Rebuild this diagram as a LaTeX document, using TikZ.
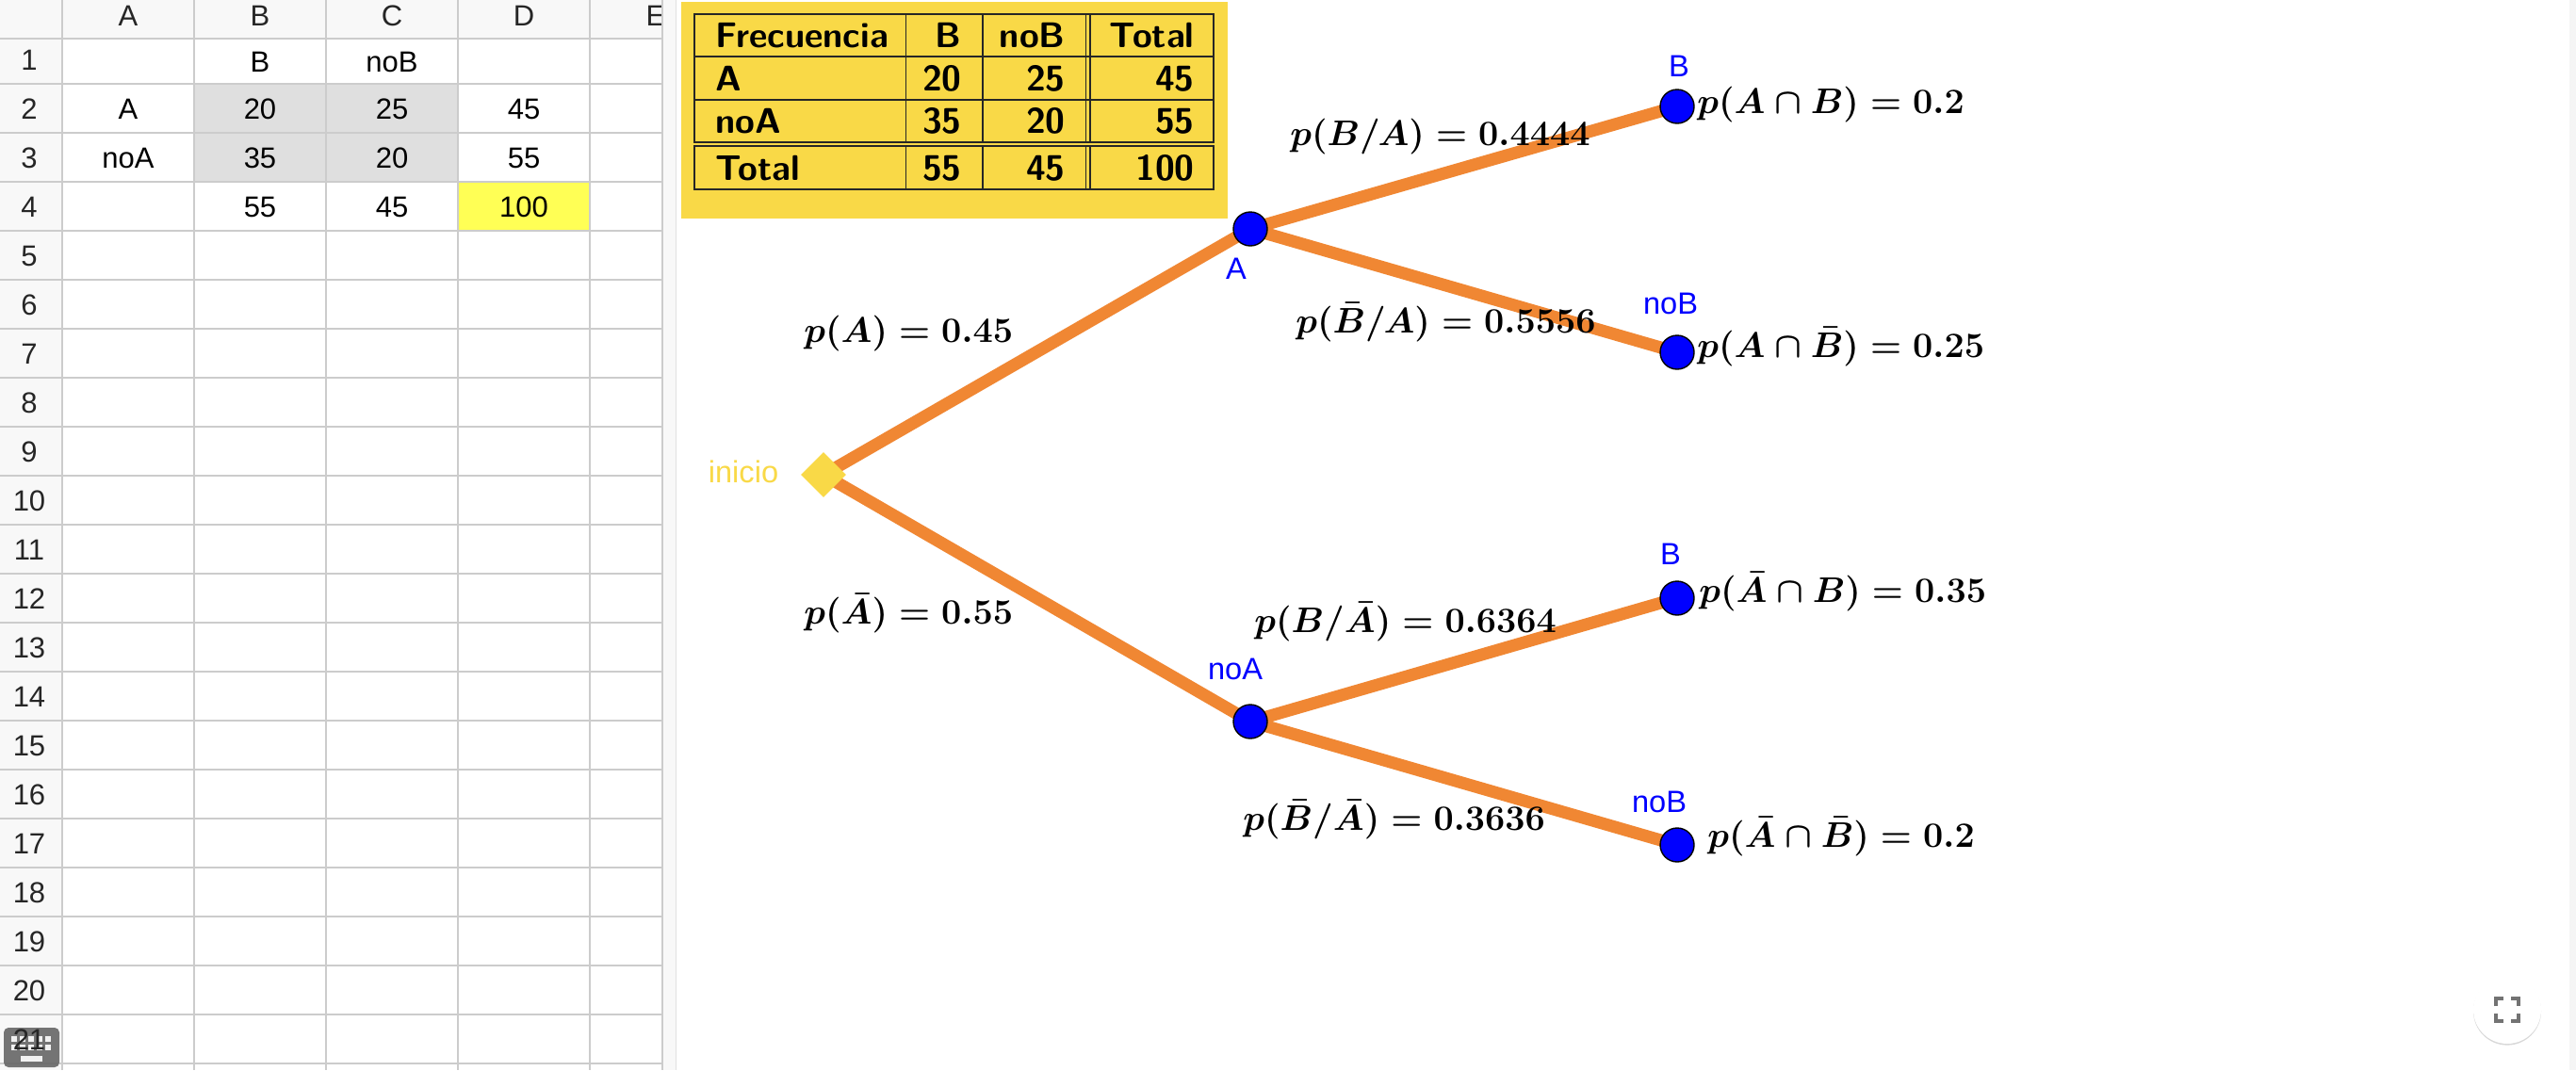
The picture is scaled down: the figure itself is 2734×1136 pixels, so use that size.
\RequirePackage{fix-cm}
\documentclass[tikz,border=0pt]{standalone}
\usepackage[no-math]{fontspec}
\setmainfont{Liberation Sans}
\usepackage{amsmath}
\usetikzlibrary{shapes.geometric, positioning, backgrounds, shadows}
\definecolor{panelcol}{HTML}{F9D947}
\definecolor{branchcol}{HTML}{F08733}
\definecolor{gridcol}{HTML}{CCCCCC}
\definecolor{headcol}{HTML}{F8F8F8}
\definecolor{sharecol}{HTML}{DFDFDF}
\definecolor{totalcol}{HTML}{FFFF55}
\tikzstyle{headtxt} = [anchor=base, inner sep=0pt, text=black!85, font=\fontsize{15.5}{17}\selectfont]
\tikzstyle{celltxt} = [anchor=base, inner sep=0pt, text=black, font=\fontsize{15.5}{17}\selectfont]
\tikzstyle{gridline} = [gridcol, line width=1pt]
\tikzstyle{tabline} = [black!85, line width=0.8pt]
\tikzstyle{tabtxtl} = [anchor=base west, inner sep=0pt, font=\fontsize{18.9}{20}\selectfont\sffamily\bfseries]
\tikzstyle{tabtxtr} = [anchor=base east, inner sep=0pt, font=\fontsize{18.9}{20}\selectfont\sffamily\bfseries]
\tikzstyle{point} = [circle, draw=black, line width=0.7pt, fill=blue, inner sep=0pt, minimum size=18pt]
\tikzstyle{start} = [diamond, aspect=1, fill=panelcol, inner sep=0pt, minimum size=24pt]
\tikzstyle{branch} = [branchcol, line width=6.5pt]
\tikzstyle{ptlabel} = [anchor=base, inner sep=0pt, text=blue, font=\fontsize{16.3}{18}\selectfont]
\tikzstyle{prob} = [anchor=base west, inner sep=0pt, font=\fontsize{18.9}{20}\selectfont\boldmath]
\tikzstyle{icon} = [black!55, line width=1.8pt]

\begin{document}
\begin{tikzpicture}[x=0.5pt, y=-0.5pt]
    \useasboundingbox (0,0) rectangle (2734,1136);
    % spreadsheet
    \fill [headcol] (0,0) rectangle (703,41);
    \fill [headcol] (0,0) rectangle (66,1136);
    \fill [sharecol] (206,89) rectangle (486,193);
    \fill [totalcol] (486,193) rectangle (626,245);
    \foreach \c/\t in {136/A,276/B,416/C,556/D,696/E}
        \node (col\t) [headtxt] at (\c,27) {\t};
    \fill [headcol] (703,0) rectangle (717,1136);
    \fill [black!4] (2727,0) rectangle (2734,1136);
    \draw [gridline] (0,41) -- (703,41);
    \foreach \r in {0,...,20}
        \draw [gridline] (0,{89+52*\r}) -- (703,{89+52*\r});
    \foreach \c in {66,206,346,486,626,703}
        \draw [gridline] (\c,0) -- (\c,1136);
    \draw [gridcol!60, line width=0.5pt] (717,0) -- (717,1136);
    \foreach \c/\r/\t/\n in {276/76/B/b1,416/76/noB/b2,136/126/A/a2,276/126/20/b3,416/126/25/b4,556/126/45/b5,
        136/178/noA/a3,276/178/35/b6,416/178/20/b7,556/178/55/b8,276/230/55/b9,416/230/45/b10,556/230/100/b11}
        \node (cell\n) [celltxt] at (\c,\r) {\t};
    % keyboard button
    \fill [black!60, opacity=0.9, rounded corners=2.5pt] (4,1091) rectangle (63,1133);
    \foreach \y in {1100,1109}
        \foreach \x in {12,21,30,39,48}
            \fill [white, opacity=0.9] (\x,\y) rectangle ++(6,6);
    \fill [white, opacity=0.9] (22,1121) rectangle (45,1127);
    \foreach \r in {1,...,21}
        \node (row\r) [headtxt] at (31,{22+52*\r}) {\r};

    % frequency table
    \fill [panelcol] (723,2) rectangle (1303,232);
    \draw [tabline] (737,15) rectangle (1288,151);
    \draw [tabline] (737,155) rectangle (1288,201);
    \draw [tabline] (737,60) -- (1288,60);
    \draw [tabline] (737,106) -- (1288,106);
    \foreach \c in {961.5,1043,1152.5,1157}
        \draw [tabline] (\c,15) -- (\c,151) (\c,155) -- (\c,201);
    \foreach \r/\t/\n in {50/Frecuencia/f,96/A/a,141/noA/n,191/Total/t}
        \node (tab\n) [tabtxtl] at (759,\r) {\t};
    \foreach \c/\r/\t/\n in {1021/50/B/1,1131/50/noB/2,1268/50/Total/3,1021/96/20/4,1131/96/25/5,1268/96/45/6,
        1021/141/35/7,1131/141/20/8,1268/141/55/9,1021/191/55/10,1131/191/45/11,1268/191/100/12}
        \node (tabv\n) [tabtxtr] at (\c,\r) {\t};

    % probability tree
    \node (inicio) [start] at (874,504) {};
    \node (nA) [point] at (1327,243) {};
    \node (nnoA) [point] at (1327,766) {};
    \node (nAB) [point] at (1780,113) {};
    \node (nAnoB) [point] at (1780,374) {};
    \node (nnoAB) [point] at (1780,635) {};
    \node (nnoAnoB) [point] at (1780,897) {};
    \begin{scope}[on background layer]
        \fill [white] (717,0) rectangle (2727,1136);
        \draw [branch] (inicio.center) -- (nA.center);
        \draw [branch] (inicio.center) -- (nnoA.center);
        \draw [branch] (nA.center) -- (nAB.center);
        \draw [branch] (nA.center) -- (nAnoB.center);
        \draw [branch] (nnoA.center) -- (nnoAB.center);
        \draw [branch] (nnoA.center) -- (nnoAnoB.center);
    \end{scope}
    \node (linicio) [ptlabel, text=panelcol] at (789,512) {inicio};
    \node (lA) [ptlabel] at (1312,296) {A};
    \node (lnoA) [ptlabel] at (1311,721) {noA};
    \node (lAB) [ptlabel] at (1782,81) {B};
    \node (lAnoB) [ptlabel] at (1773,333) {noB};
    \node (lnoAB) [ptlabel] at (1773,599) {B};
    \node (lnoAnoB) [ptlabel] at (1761,862) {noB};

    \node (pA) [prob] at (853,363) {$p(A)=0.45$};
    \node (pnoA) [prob] at (853,662) {$p(\bar{A})=0.55$};
    \node (pBA) [prob] at (1369,154) {$p(B/A)=0.4444$};
    \node (pnoBA) [prob] at (1375,353) {$p(\bar{B}/A)=0.5556$};
    \node (pBnoA) [prob] at (1331,671) {$p(B/\bar{A})=0.6364$};
    \node (pnoBnoA) [prob] at (1319,881) {$p(\bar{B}/\bar{A})=0.3636$};
    \node (pAB) [prob] at (1801,120) {$p(A\cap B)=0.2$};
    \node (pAnoB) [prob] at (1801,379) {$p(A\cap\bar{B})=0.25$};
    \node (pnoAB) [prob] at (1803,639) {$p(\bar{A}\cap B)=0.35$};
    \node (pnoAnoB) [prob] at (1812,899) {$p(\bar{A}\cap\bar{B})=0.2$};

    % fullscreen button
    \node (fullbtn) [circle, fill=white, inner sep=0pt, minimum size=36pt,
        drop shadow={shadow xshift=0pt, shadow yshift=-0.8pt, opacity=0.3}] at (2661,1072) {};
    \draw [icon] (2649,1068) -- (2649,1060) -- (2657,1060);
    \draw [icon] (2665,1060) -- (2673,1060) -- (2673,1068);
    \draw [icon] (2649,1076) -- (2649,1084) -- (2657,1084);
    \draw [icon] (2665,1084) -- (2673,1084) -- (2673,1076);
\end{tikzpicture}
\end{document}
